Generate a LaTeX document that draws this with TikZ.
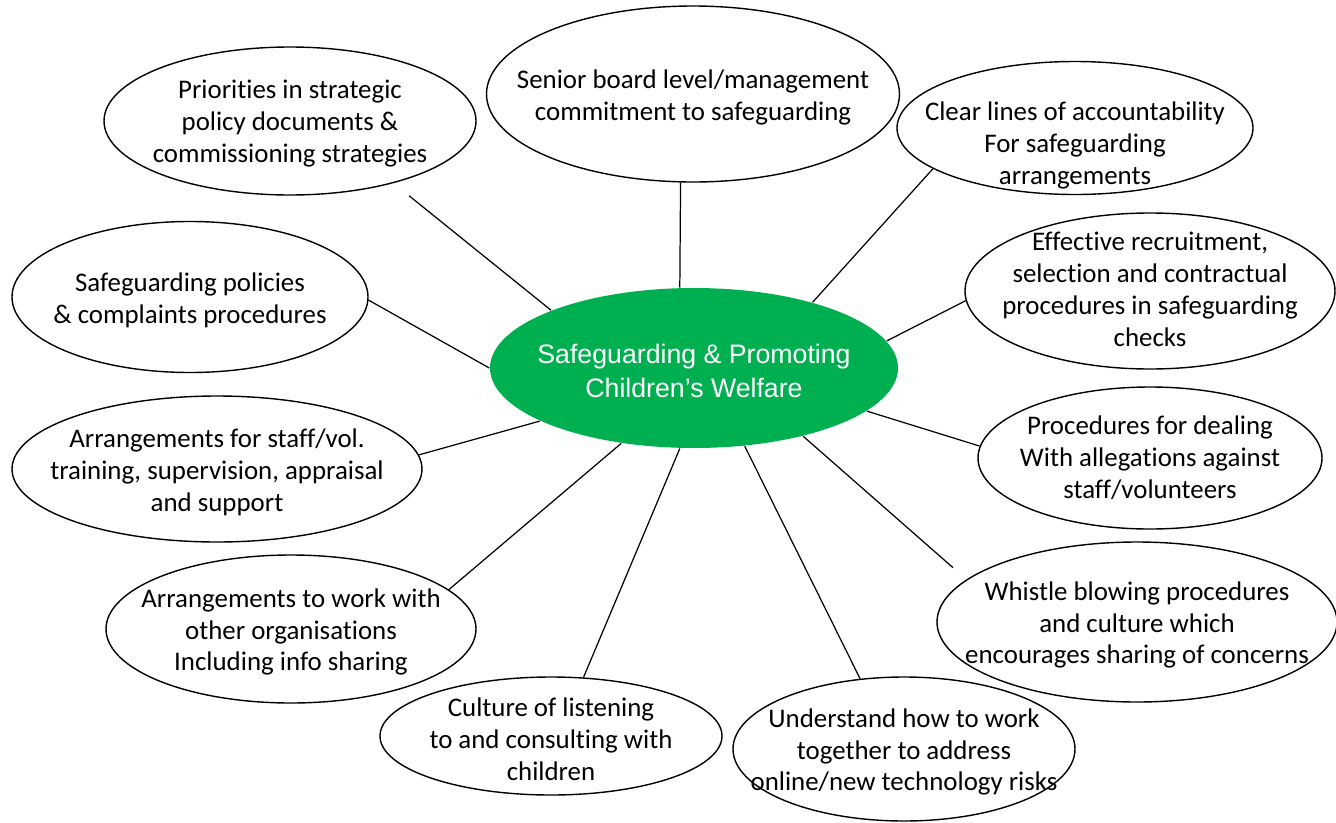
\documentclass[tikz,border=0pt]{standalone}
\usepackage{fontspec}
\setmainfont{Carlito}[Ligatures=NoCommon]
\newfontfamily\hubfamily{Liberation Sans}
\usetikzlibrary{shapes.geometric}

\definecolor{hubgreen}{RGB}{0,176,80}

\tikzset{
  bubble/.style 2 args={draw, ellipse, line width=0.8pt, inner sep=0pt,
    minimum width=#1*0.02cm, minimum height=#2*0.02cm},
  every label/.style={align=center, inner sep=0pt, yshift=-1.7pt,
    font=\fontsize{15.3}{18.2}\selectfont},
  spoke/.style={line width=0.7pt},
}

\begin{document}
\begin{tikzpicture}[x=0.02cm, y=-0.02cm]
  \useasboundingbox (0,0) rectangle (1336,822);

  \node (hub) [bubble={408}{160}, fill=hubgreen, draw=none,
    label={[font=\hubfamily\fontsize{15.2}{19.4}\selectfont, text=white]center:Safeguarding \& Promoting\\Children’s Welfare}] at (694,368) {};

  \node (priorities) [bubble={372}{148}, label=center:{Priorities in strategic\\policy documents \&\\commissioning strategies}] at (290,121) {};
  \node (senior) [bubble={413}{176}, label=center:{Senior board level/management\\commitment to safeguarding}] at (693,94) {};
  \node (clear) [bubble={356}{133}, label={[yshift=-8.2pt]center:{Clear lines of accountability\\For safeguarding\\arrangements}}] at (1075,128) {};
  \node (policies) [bubble={356}{151}, label=center:{Safeguarding policies\\\& complaints procedures}] at (190,297) {};
  \node (recruit) [bubble={370}{156}, label={[yshift=2.6pt]center:{Effective recruitment,\\selection and contractual\\procedures in safeguarding\\checks}}] at (1150,291) {};
  \node (training) [bubble={410}{146}, label=center:{Arrangements for staff/vol.\\training, supervision, appraisal\\and support}] at (217,469) {};
  \node (allegations) [bubble={344}{142}, label={[yshift=2pt]center:{Procedures for dealing\\With allegations against\\staff/volunteers}}] at (1150,458) {};
  \node (partners) [bubble={370}{148}, label=center:{Arrangements to work with\\other organisations\\Including info sharing}] at (291,629) {};
  \node (whistle) [bubble={400}{160}, label=center:{Whistle blowing procedures\\and culture which\\encourages sharing of concerns}] at (1137,622) {};
  \node (listening) [bubble={342}{118}, label=center:{Culture of listening\\to and consulting with\\children}] at (551,736) {};
  \node (online) [bubble={342}{144}, label=center:{Understand how to work\\together to address\\online/new technology risks}] at (904,749) {};

  \draw [spoke, shorten <=0.4cm] (priorities.329) -- (hub.158);
  \draw [spoke] (senior.262) -- (hub.100);
  \draw [spoke] (clear.196) -- (hub.29);
  \draw [spoke] (policies.359) -- (hub.180);
  \draw [spoke] (recruit.183) -- (hub.8);
  \draw [spoke] (training.4) -- (hub.199);
  \draw [spoke] (allegations.176) -- (hub.346);
  \draw [spoke] (partners.14) -- (hub.226);
  \draw [spoke, shorten <=0.36cm] (whistle.166) -- (hub.328);
  \draw [spoke] (listening.61) -- (hub.260);
  \draw [spoke] (online.122) -- (hub.303);
\end{tikzpicture}
\end{document}
